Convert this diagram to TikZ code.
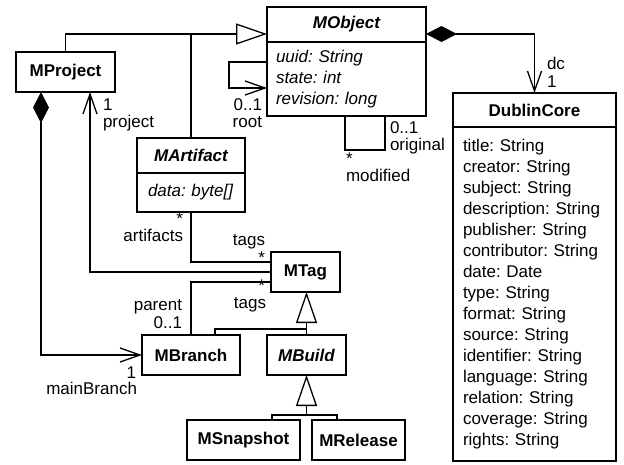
\documentclass[tikz,border=0pt]{standalone}
\usepackage{fontspec}
\setmainfont{Liberation Sans}
\usetikzlibrary{arrows.meta,positioning}

\tikzset{
    box/.style={draw, line width=1.6pt, outer sep=0pt, inner sep=0pt},
    cls/.style={box, font=\bfseries, minimum height=40pt},
    hdr/.style={box, font=\bfseries},
    attrs/.style={box, align=left, inner ysep=0pt},
    ln/.style={line width=1.3pt},
    gen/.style={ln, -{Triangle[open, length=31pt, width=21pt]}},
    assoc/.style={ln, -{Straight Barb[length=20pt, width=14pt]}},
    comp/.style={ln, {Diamond[length=31pt, width=16pt]}-{Straight Barb[length=20pt, width=14pt]}},
    lbl/.style={inner sep=0pt, outer sep=0pt}
}

\begin{document}
\frenchspacing
\fontsize{17}{21}\selectfont
\begin{tikzpicture}[x=1pt, y=-1pt]
    \useasboundingbox (0,0) rectangle (624,464);

    \node[hdr, minimum width=159pt, minimum height=35pt] (mobj) at (346.5,24.5) {\itshape MObject};
    \node[attrs, font=\itshape, text width=141pt, inner xsep=9pt, minimum height=74pt, below=0pt of mobj] (mobjattr)
        {uuid: String\\ state: int\\ revision: long};

    \node[hdr, minimum width=163pt, minimum height=34pt] (dc) at (534.5,110) {DublinCore};
    \node[attrs, text width=143pt, inner xsep=10pt, minimum height=334pt, below=0pt of dc] (dcattr)
        {title: String\\ creator: String\\ subject: String\\ description: String\\ publisher: String\\
         contributor: String\\ date: Date\\ type: String\\ format: String\\ source: String\\
         identifier: String\\ language: String\\ relation: String\\ coverage: String\\ rights: String};

    \node[hdr, minimum width=108pt, minimum height=35pt] (mart) at (191,155.5) {\itshape MArtifact};
    \node[attrs, font=\itshape, text width=92pt, inner xsep=8pt, minimum height=39pt, below=0pt of mart] (martattr)
        {\hspace*{3pt}data: byte[]};

    \node[cls, minimum width=99pt] (mproj) at (65.5,72) {MProject};
    \node[cls, minimum width=69pt] (mtag) at (305.5,272) {MTag};
    \node[cls, minimum width=98pt] (mbranch) at (191,355) {MBranch};
    \node[cls, minimum width=79pt] (mbuild) at (306.5,355) {\itshape MBuild};
    \node[cls, minimum width=113pt] (msnap) at (243.5,440) {MSnapshot};
    \node[cls, minimum width=93pt] (mrel) at (358.5,440) {MRelease};

    \coordinate (genj) at ([yshift=-9.5pt]mobj.west);
    \draw[gen] (mproj.north) |- (genj);
    \draw[ln] (mart.north) -- (mart.north |- genj);

    \draw[assoc] ([yshift=17pt]mobjattr.west) -- ++(-38,0) |- ([yshift=-9pt]mobjattr.west);
    \draw[ln] ([xshift=-1.5pt]mobjattr.south) -- ++(0,34) -| ([xshift=38.5pt]mobjattr.south);
    \draw[comp] ([yshift=-9.5pt]mobj.east) -| (dc.north);

    \draw[ln] (martattr.south) |- ([yshift=10pt]mtag.west);
    \draw[assoc] (mtag.west) -| ([xshift=24.5pt]mproj.south);
    \draw[ln] ([yshift=-10pt]mtag.west) -| (mbranch.north);

    \draw[gen] (mbuild.north) -- (mbuild.north |- mtag.south);
    \draw[ln] ([xshift=24pt]mbranch.north) |- ([yshift=6pt]mbuild.north);

    \coordinate (bj) at ([yshift=-40pt]mbuild.south);
    \draw[gen] (bj) -- (mbuild.south);
    \draw[ln] ([xshift=28.5pt]msnap.north) |- (bj) -| ([xshift=-21.5pt]mrel.north);

    \draw[comp] ([xshift=-24.5pt]mproj.south) |- (mbranch.west);

    \node[lbl, anchor=base east] (rootm) at (262,110) {0..1};
    \node[lbl, anchor=base east] (rootr) at (262,127) {root};
    \node[lbl, anchor=base west] (projm) at (103,110) {1};
    \node[lbl, anchor=base west] (projr) at (103,127) {project};
    \node[lbl, anchor=base west] (dcr) at (547,69) {dc};
    \node[lbl, anchor=base west] (dcm) at (547,87) {1};
    \node[lbl, anchor=base west] (origm) at (390,133) {0..1};
    \node[lbl, anchor=base west] (origr) at (390,150) {original};
    \node[lbl, anchor=base west] (modm) at (346,164.5) {*};
    \node[lbl, anchor=base west] (modr) at (346,181) {modified};
    \node[lbl, anchor=base east] (artm) at (183,224.5) {*};
    \node[lbl, anchor=base east] (artr) at (183,241) {artifacts};
    \node[lbl, anchor=base east] (tagsr1) at (265,245) {tags};
    \node[lbl, anchor=base east] (tagsm1) at (265,263) {*};
    \node[lbl, anchor=base east] (tagsm2) at (265,291.5) {*};
    \node[lbl, anchor=base east] (tagsr2) at (266,308) {tags};
    \node[lbl, anchor=base east] (parr) at (182,310) {parent};
    \node[lbl, anchor=base east] (parm) at (182,328) {0..1};
    \node[lbl, anchor=base east] (mainm) at (136,378) {1};
    \node[lbl, anchor=base east] (mainr) at (137,394) {mainBranch};
\end{tikzpicture}
\end{document}
